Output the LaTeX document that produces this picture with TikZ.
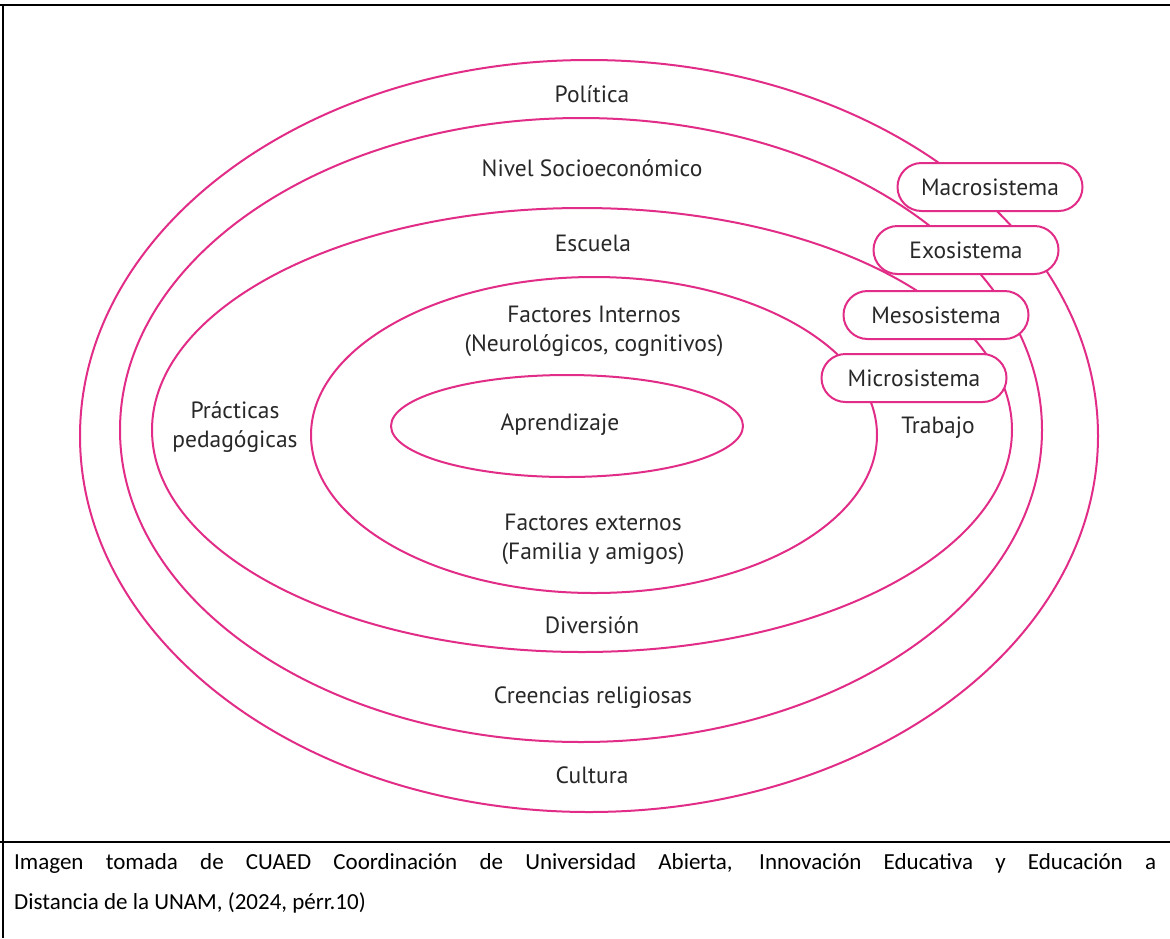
\documentclass[tikz,border=0pt]{standalone}
\usepackage{fontspec}
\setmainfont{PT Sans}
\newfontfamily\capfont{Carlito}
\usetikzlibrary{shapes.geometric}
\definecolor{ringpink}{RGB}{225,45,135}
\definecolor{txtgray}{RGB}{40,40,40}
\tikzset{
  ring/.style={draw=ringpink, line width=2pt, ellipse, inner sep=0pt},
  pill/.style={draw=ringpink, line width=2pt, fill=white, rounded corners=24pt,
    minimum width=185pt, minimum height=48pt, inner sep=0pt,
    font=\fontsize{23.5}{28}\selectfont, text=txtgray},
  lbl/.style={font=\fontsize{23.5}{29}\selectfont, text=txtgray, align=center, inner sep=0pt},
  frame/.style={line width=2.5pt, black}
}
\begin{document}
\begin{tikzpicture}[x=1pt,y=-1pt]
\useasboundingbox (0,0) rectangle (1170,938);
\fill[white] (0,0) rectangle (1170,938);
% frame
\coordinate (tl) at (0,5);
\coordinate (tr) at (1170,5);
\coordinate (lt) at (3,5);
\coordinate (lb) at (3,938);
\coordinate (ml) at (0,842);
\coordinate (mr) at (1170,842);
\draw[frame] (tl) -- (tr);
\draw[frame] (lt) -- (lb);
\draw[frame] (ml) -- (mr);
% rings
\node[ring, minimum width=1018pt, minimum height=752pt] (macroring) at (589,436) {};
\node[ring, minimum width=922pt, minimum height=624pt] (exoring) at (581,430) {};
\node[ring, minimum width=860pt, minimum height=444pt] (mesoring) at (582,430) {};
\node[ring, minimum width=566pt, minimum height=316pt] (microring) at (594,435) {};
\node[ring, minimum width=352pt, minimum height=102pt] (core) at (567,426) {};
% labels
\node[lbl] (politica) at (592,94) {Política};
\node[lbl] (nivel) at (592,168) {Nivel Socioeconómico};
\node[lbl] (escuela) at (593,243) {Escuela};
\node[lbl] (finternos) at (594,331) {Factores Internos\\(Neurológicos, cognitivos)};
\node[lbl] (aprendizaje) at (560,425) {Aprendizaje};
\node[lbl] (fexternos) at (593,539) {Factores externos\\(Familia y amigos)};
\node[lbl] (diversion) at (592,625) {Diversión};
\node[lbl] (creencias) at (593,698) {Creencias religiosas};
\node[lbl] (cultura) at (592,775) {Cultura};
\node[lbl] (practicas) at (235,427) {Prácticas\\pedagógicas};
\node[lbl] (trabajo) at (938,428) {Trabajo};
% pills
\node[pill] (macro) at (990,187) {Macrosistema};
\node[pill] (exo) at (966,250) {Exosistema};
\node[pill] (meso) at (936,315) {Mesosistema};
\node[pill] (micro) at (914,378) {Microsistema};
% caption
\node[anchor=north west, inner sep=0pt, text width=1142pt, align=justify,
  font=\capfont\fontsize{23}{40}\selectfont] (caption) at (14,853)
  {Imagen tomada de CUAED Coordinación de Universidad Abierta, Innovación Educativa y Educación a\linebreak Distancia de la UNAM, (2024, pérr.10)};
\end{tikzpicture}
\end{document}
